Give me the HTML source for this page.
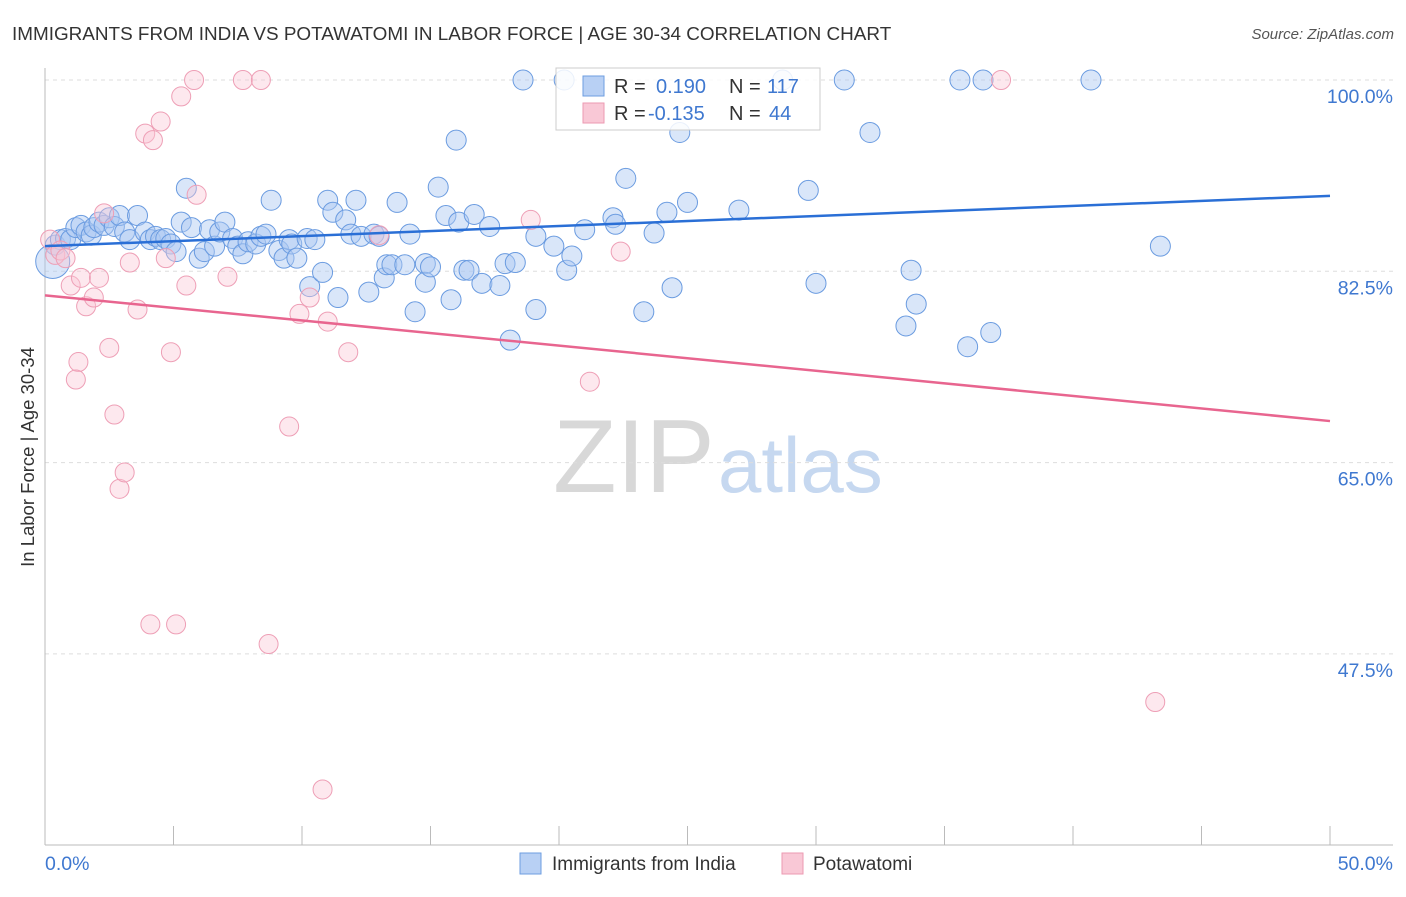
<!DOCTYPE html>
<html><head><meta charset="utf-8"><style>
body{margin:0;background:#fff;font-family:"Liberation Sans",sans-serif;}
svg text{font-family:"Liberation Sans",sans-serif;}
</style></head><body>
<svg id="chart" width="1406" height="892">
<text x="12" y="40" font-size="18.9" fill="#333">IMMIGRANTS FROM INDIA VS POTAWATOMI IN LABOR FORCE | AGE 30-34 CORRELATION CHART</text>
<text x="1394" y="39" font-size="15" fill="#555" font-style="italic" text-anchor="end">Source: ZipAtlas.com</text>
<text x="553" y="492" font-size="104" fill="#d8d8d8" font-family="Liberation Serif">ZIP</text>
<text x="718" y="492" font-size="78" fill="#c6d8f0">atlas</text>
<g id="grid"></g><g id="axes"></g><g id="pts"></g><g id="trend"></g>
<text transform="translate(34,457) rotate(-90)" font-size="18.5" fill="#333" text-anchor="middle">In Labor Force | Age 30-34</text>
<g>
<rect x="556" y="68" width="264" height="62" fill="#fff" fill-opacity="0.85" stroke="#ccc"></rect>
<rect x="583" y="76" width="21" height="20" fill="#b8d0f4" stroke="#6e9ee0"></rect>
<rect x="583" y="103" width="21" height="20" fill="#f9c8d6" stroke="#ec9ab2"></rect>
<text x="614" y="93" font-size="20" fill="#333">R =</text><text x="656" y="93" font-size="20" fill="#3f78d0">0.190</text>
<text x="729" y="93" font-size="20" fill="#333">N =</text><text x="767" y="93" font-size="20" fill="#3f78d0">117</text>
<text x="614" y="120" font-size="20" fill="#333">R =</text><text x="648" y="120" font-size="20" fill="#3f78d0">-0.135</text>
<text x="729" y="120" font-size="20" fill="#333">N =</text><text x="769" y="120" font-size="20" fill="#3f78d0">44</text>
</g>
<g>
<rect x="520" y="853" width="21" height="21" fill="#b8d0f4" stroke="#6e9ee0"></rect>
<text x="552" y="870" font-size="19" fill="#333">Immigrants from India</text>
<rect x="782" y="853" width="21" height="21" fill="#f9c8d6" stroke="#ec9ab2"></rect>
<text x="813" y="870" font-size="19" fill="#333">Potawatomi</text>
</g>
</svg>
<script>
const yTicks=[100,82.5,65,47.5];
const yTickLabels=["100.0%","82.5%","65.0%","47.5%"];
const xTickLabels=["0.0%","50.0%"];
const blueX=[0.4,0.6,0.8,1.0,1.2,1.4,1.6,1.8,1.9,2.1,2.3,2.5,2.7,2.9,3.1,3.3,3.6,3.9,4.1,4.3,4.5,4.7,4.9,5.1,5.3,5.5,5.7,6.0,6.2,6.4,6.6,6.8,7.0,7.3,7.5,7.7,7.9,8.2,8.4,8.6,8.8,9.1,9.3,9.5,9.6,9.8,10.2,10.3,10.5,10.8,11.0,11.2,11.4,11.7,11.9,12.1,12.3,12.6,12.8,13.0,13.2,13.3,13.5,13.7,14.0,14.2,14.4,14.8,14.8,15.0,15.3,15.6,15.8,16.0,16.1,16.3,16.5,16.7,17.0,17.3,17.7,17.9,18.1,18.3,18.6,19.1,19.1,19.8,20.2,20.3,20.5,21.0,22.1,22.2,22.6,23.3,23.7,24.2,24.4,24.7,25.0,27.0,28.7,29.7,30.0,31.1,32.1,33.5,33.7,33.9,35.6,35.9,36.5,36.8,40.7,43.4,0.3];
const blueY=[84.9,85.4,85.5,85.4,86.5,86.7,86.1,85.8,86.5,87.0,86.7,87.4,86.6,87.6,86.1,85.4,87.6,86.1,85.4,85.7,85.4,85.5,85.0,84.3,87.0,90.1,86.5,83.7,84.3,86.3,84.8,86.1,87.0,85.5,84.8,84.1,85.2,85.0,85.7,85.9,89.0,84.4,83.7,85.4,85.0,83.7,85.5,81.1,85.4,82.4,89.0,87.9,80.1,87.2,85.9,89.0,85.7,80.6,85.9,85.7,81.9,83.1,83.1,88.8,83.1,85.9,78.8,83.2,81.5,82.9,90.2,87.6,79.9,94.5,87.0,82.6,82.6,87.7,81.4,86.6,81.2,83.2,76.2,83.3,100,85.7,79.0,84.8,100,82.6,83.9,86.3,87.4,86.8,91.0,78.8,86.0,87.9,81.0,95.2,88.8,88.1,100,89.9,81.4,100,95.2,77.5,82.6,79.5,100,75.6,100,76.9,100,84.8,83.4];
const pinkX=[0.2,0.4,0.6,0.8,1.0,1.4,1.6,1.9,2.1,2.3,2.5,2.7,2.9,3.1,3.3,3.6,3.9,4.1,4.2,4.5,4.7,4.9,5.1,5.3,5.5,5.8,5.9,7.1,7.7,8.4,8.7,9.5,9.9,10.3,10.8,11.0,11.8,13.0,18.9,21.2,22.4,37.2,43.2,1.3,1.2];
const pinkY=[85.4,84.0,84.4,83.7,81.2,81.9,79.3,80.1,81.9,87.8,75.5,69.4,62.6,64.1,83.3,79.0,95.1,50.2,94.5,96.2,83.7,75.1,50.2,98.5,81.2,100,89.5,82.0,100,100,48.4,68.3,78.6,80.1,35.1,77.9,75.1,85.8,87.2,72.4,84.3,100,43.1,74.2,72.6];
const blueTrend=[84.8,89.4];
const pinkTrend=[80.3,68.8];
const NS="http://www.w3.org/2000/svg";
const xs=v=>45+v/50*1285;
const ys=v=>80+(100-v)/17.5*191.3;
function mk(parent,tag,attrs){const e=document.createElementNS(NS,tag);for(const k in attrs)e.setAttribute(k,attrs[k]);document.getElementById(parent).appendChild(e);return e;}
yTicks.forEach((t,i)=>{
 const l=mk('grid','line',{x1:45,x2:1393,y1:ys(t),y2:ys(t),stroke:'#ddd','stroke-dasharray':'4,4'});
 
 
 const tx=mk('grid','text',{x:1393,y:ys(t)+23,'font-size':19.5,fill:'#3f78d0','text-anchor':'end'});
 tx.textContent=yTickLabels[i];
 
 
});
mk('axes','line',{x1:45,x2:45,y1:68,y2:845,stroke:'#bbb'});
mk('axes','line',{x1:45,x2:1393,y1:845,y2:845,stroke:'#bbb'});
for(let i=0;i<=10;i++){const x=xs(i*5);const t=mk('axes','line',{x1:x,x2:x,y1:826,y2:845,stroke:'#bbb'});
 
 }
[[0,'start',45],[50,'end',1393]].forEach((d,i)=>{const t=mk('axes','text',{x:d[2],y:870,'font-size':19.5,fill:'#3f78d0','text-anchor':d[1]});t.textContent=xTickLabels[i];
 
 });
blueX.forEach((x,i)=>{const big=i===blueX.length-1;
 const c=mk('pts','circle',{cx:xs(x),cy:ys(blueY[i]),r:big?17:10,fill:'rgba(170,200,242,0.45)',stroke:'#6a9be0','stroke-width':1});
 
 });
pinkX.forEach((x,i)=>{const c=mk('pts','circle',{cx:xs(x),cy:ys(pinkY[i]),r:9.5,fill:'rgba(250,198,212,0.4)',stroke:'#ee9fb6','stroke-width':1});
 
 });
const bt=mk('trend','line',{x1:xs(0),x2:xs(50),y1:ys(blueTrend[0]),y2:ys(blueTrend[1]),stroke:'#2a6fd6','stroke-width':2.5});


const pt=mk('trend','line',{x1:xs(0),x2:xs(50),y1:ys(pinkTrend[0]),y2:ys(pinkTrend[1]),stroke:'#e8658f','stroke-width':2.5});


</script>
</body></html>
